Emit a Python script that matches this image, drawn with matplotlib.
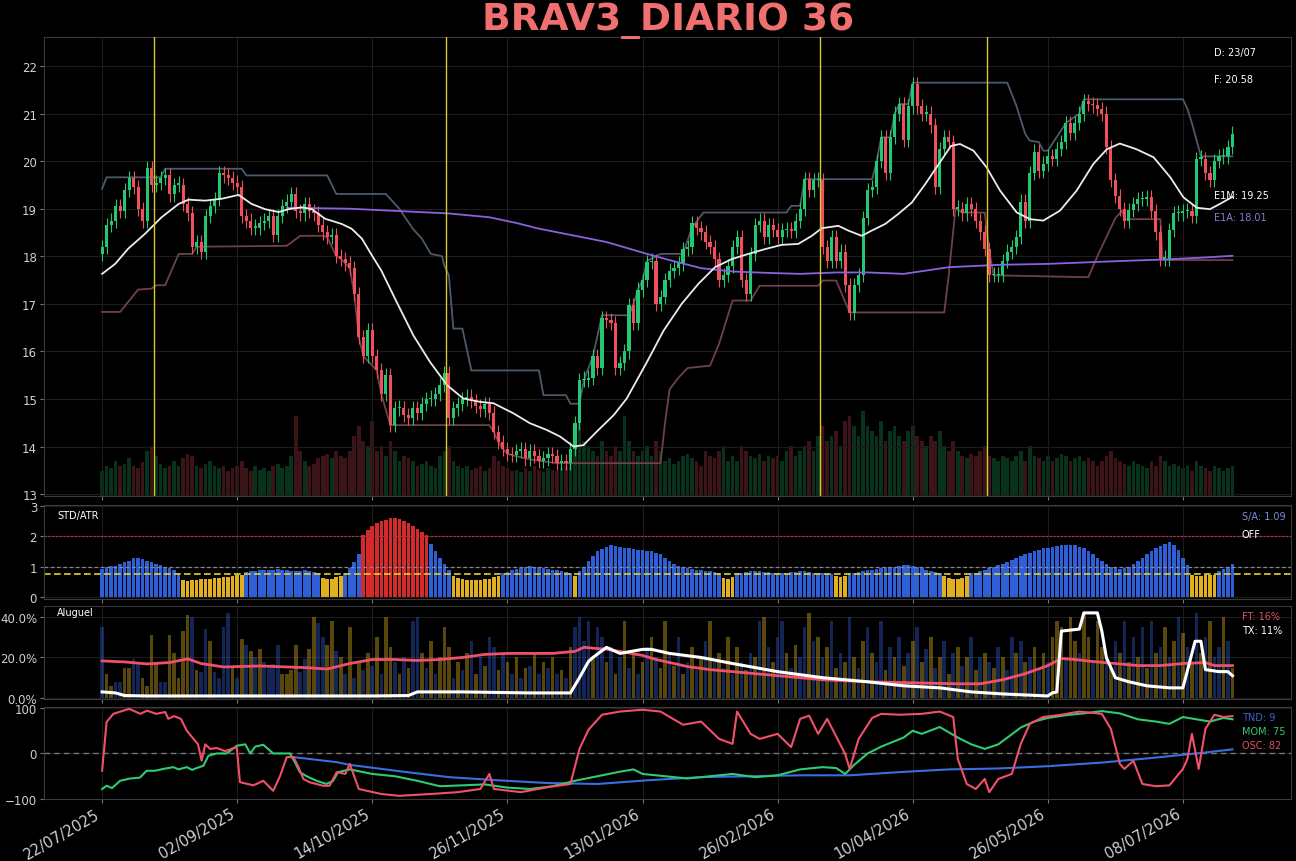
import numpy as np
import matplotlib
matplotlib.use("Agg")
import matplotlib.pyplot as plt
from matplotlib.ticker import FuncFormatter


# daily closes, one per trading day (index 0 = 22/07/2025)
CLOSES = [
    18.20, 18.65, 18.75, 19.05, 18.95, 19.40, 19.65, 19.45, 19.00, 18.75,
    19.85, 19.50, 19.55, 19.65, 19.70, 19.30, 19.50, 19.50, 19.10, 18.90,
    18.20, 18.30, 18.10, 18.85, 19.05, 19.20, 19.75, 19.70, 19.65, 19.55,
    19.45, 18.85, 18.75, 18.60, 18.60, 18.70, 18.75, 18.85, 18.45, 18.85,
    19.05, 19.15, 19.30, 18.95, 18.90, 19.10, 18.95, 18.90, 18.65, 18.50,
    18.40, 18.45, 18.00, 17.95, 17.85, 17.75, 17.20, 16.30, 15.90, 16.45,
    15.90, 15.60, 15.10, 15.50, 14.45, 14.80, 14.80, 14.66, 14.60, 14.80,
    14.70, 14.90, 15.00, 15.00, 15.10, 15.30, 15.55, 14.60, 14.80, 14.90,
    15.00, 15.05, 14.95, 14.85, 14.78, 14.90, 14.70, 14.30, 14.10, 13.95,
    13.85, 13.82, 13.90, 13.95, 13.75, 13.90, 13.80, 13.70, 13.75, 13.85,
    13.80, 13.65, 13.70, 13.65, 13.95, 14.50, 15.40, 15.40, 15.45, 15.90,
    15.65, 16.70, 16.65, 16.60, 15.65, 15.75, 16.00, 16.97, 16.60, 17.30,
    17.50, 17.88, 17.90, 17.00, 17.15, 17.50, 17.70, 17.75, 17.85, 18.15,
    18.20, 18.70, 18.60, 18.50, 18.30, 18.20, 17.95, 17.50, 17.60, 17.80,
    18.20, 18.40, 17.50, 17.20, 18.05, 18.65, 18.75, 18.40, 18.65, 18.55,
    18.40, 18.55, 18.55, 18.54, 18.75, 19.00, 19.62, 19.40, 19.60, 19.60,
    18.20, 17.90, 18.40, 17.90, 18.10, 17.40, 16.80, 17.40, 17.60, 18.80,
    19.40, 19.45, 20.00, 20.50, 19.75, 20.50, 21.00, 21.20, 20.45, 21.15,
    21.62, 21.15, 21.00, 21.00, 20.75, 19.45, 20.25, 20.50, 20.40, 19.00,
    19.00, 18.90, 19.10, 19.00, 18.75, 18.50, 18.15, 17.60, 17.60, 17.60,
    17.90, 18.10, 18.20, 18.40, 19.15, 18.75, 19.75, 20.20, 19.80, 19.95,
    20.10, 20.05, 20.25, 20.40, 20.80, 20.60, 20.80, 21.00, 21.27, 21.20,
    21.17, 21.10, 21.00, 20.30, 19.60, 19.27, 19.00, 18.75, 18.98, 19.10,
    19.20, 19.20, 19.25, 18.95, 18.50, 17.95, 17.95, 18.55, 18.90, 18.90,
    18.95, 18.95, 18.85, 20.05, 20.05, 19.75, 19.60, 20.00, 20.10, 20.10,
    20.30, 20.58,
]
FIRST_OPEN = 18.05

# volume (bar height in panel pixels)
VOLUME = [
    25, 30, 28, 35, 30, 32, 38, 30, 28, 34,
    45, 50, 40, 32, 28, 30, 35, 30, 38, 42,
    40, 30, 28, 32, 35, 30, 28, 30, 25, 28,
    30, 35, 28, 25, 30, 26, 28, 25, 30, 32,
    28, 30, 40, 80, 45, 35, 30, 32, 38, 40,
    42, 38, 45, 40, 38, 45, 60, 70, 55, 50,
    75, 45, 50, 40, 55, 45, 35, 40, 38, 35,
    30, 32, 35, 30, 28, 40, 45, 50, 35, 30,
    28, 30, 26, 28, 30, 25, 28, 40, 35, 30,
    28, 25, 26, 24, 28, 25, 30, 26, 24, 28,
    26, 25, 28, 30, 45, 60, 85, 55, 50, 45,
    40, 55, 45, 40, 50, 45, 80, 55, 45, 40,
    45, 50, 40, 55, 45, 35, 38, 32, 35, 40,
    42, 38, 35, 30, 45, 40, 38, 45, 50, 35,
    40, 35, 50, 45, 40, 38, 42, 35, 40, 38,
    40, 35, 45, 50, 40, 45, 50, 55, 45, 60,
    70, 55, 60, 65, 50, 75, 80, 70, 60, 85,
    70, 65, 60, 75, 55, 65, 70, 60, 55, 65,
    70, 60, 55, 50, 60, 55, 65, 50, 45, 55,
    45, 40, 38, 42, 40, 45, 50, 40, 38, 35,
    40, 38, 35, 40, 45, 35, 50, 40, 38, 35,
    40, 35, 38, 42, 40, 35, 38, 40, 35, 38,
    35, 30, 35, 40, 45, 38, 35, 32, 30, 35,
    32, 30, 28, 35, 30, 40, 35, 30, 32, 30,
    28, 30, 25, 35, 30, 28, 25, 30, 28, 25,
    28, 30,
]

# moving lines: (candle index, price)
E1M_IDX = [0, 2.9, 5.8, 9.5, 13.2, 17, 19.2, 22.9, 26.6, 30.3, 33.2, 36.2, 39.2, 41.4,
           44.3, 46.6, 49.5, 53.2, 55.4, 57.7, 59.9, 62, 65.4, 69.1, 72.8, 76.6, 80.2,
           83.9, 86.9, 91.3, 95, 98.7, 101.7, 104.7, 106.9, 109.8, 113.6, 116.5, 121,
           124.7, 128.7, 132.4, 136.1, 139.8, 143.5, 147.2, 150.9, 154.6, 157.6, 159.8,
           163.5, 165.7, 168.7, 170.9, 173.9, 176.8, 179.8, 182.8, 185.8, 188.5, 190.5,
           193.5, 196.4, 199.4, 203.1, 206.1, 209, 212.7, 216.4, 220.1, 223.1, 226,
           229.7, 233.5, 237.2, 240.1, 243.1, 246, 248.2, 251]
E1M_VAL = [17.63, 17.84, 18.16, 18.47, 18.82, 19.10, 19.19, 19.17, 19.21, 19.29, 19.10,
           18.99, 18.93, 18.99, 19.03, 18.99, 18.79, 18.68, 18.58, 18.37, 18.02, 17.70,
           17.04, 16.34, 15.78, 15.29, 15.01, 14.94, 14.91, 14.70, 14.49, 14.35, 14.21,
           14.00, 14.03, 14.31, 14.66, 15.01, 15.78, 16.44, 17.00, 17.42, 17.77, 17.94,
           18.05, 18.15, 18.24, 18.26, 18.43, 18.59, 18.64, 18.54, 18.43, 18.54, 18.68,
           18.89, 19.13, 19.52, 19.94, 20.32, 20.36, 20.22, 19.87, 19.38, 18.92, 18.78,
           18.75, 18.96, 19.38, 19.94, 20.25, 20.37, 20.25, 20.08, 19.66, 19.24, 19.02,
           18.99, 19.10, 19.25]

E1A_IDX = [41, 55, 66, 77, 86, 92, 97, 104, 112, 121, 126, 133, 140, 148, 155, 163,
           170, 178, 188, 199, 210, 218, 226, 235, 244, 251]
E1A_VAL = [19.02, 19.00, 18.95, 18.90, 18.82, 18.70, 18.58, 18.45, 18.30, 18.05, 17.92,
           17.75, 17.68, 17.65, 17.63, 17.66, 17.66, 17.63, 17.77, 17.82, 17.84, 17.87,
           17.90, 17.93, 17.97, 18.01]

UPPER_IDX = [0, 1, 13, 14, 31, 32, 50, 52, 63, 66, 69, 71, 73, 75.5, 76, 77, 78, 80, 82,
             97, 98, 103, 104, 106, 107, 109, 111, 117, 118, 119, 120, 121, 124, 129, 131,
             133.5, 152, 153, 155, 156, 171, 172, 173, 175, 176, 177, 179, 180, 201, 203,
             205, 206, 208, 209, 210, 214, 217, 218, 240, 241, 242, 244, 251]
UPPER_VAL = [19.42, 19.66, 19.66, 19.84, 19.84, 19.70, 19.70, 19.31, 19.31, 19.00, 18.58,
             18.37, 18.05, 18.00, 17.80, 17.60, 16.48, 16.48, 15.60, 15.60, 15.08, 15.08,
             14.90, 14.90, 15.40, 15.90, 16.76, 16.76, 17.00, 17.30, 17.50, 17.90, 18.05,
             18.05, 18.60, 18.92, 18.92, 19.06, 19.06, 19.62, 19.62, 20.00, 20.50, 20.50,
             21.00, 21.20, 21.20, 21.65, 21.65, 21.17, 20.57, 20.43, 20.40, 20.22, 20.22,
             20.80, 21.00, 21.30, 21.30, 21.10, 20.80, 20.10, 20.10]

LOWER_IDX = [0, 4, 8, 11, 12, 14, 17, 20, 21, 41, 44, 49, 50, 52, 53, 54, 55, 56, 57, 58,
             61, 62, 64, 86, 87, 88, 89, 90, 91, 94, 97, 101, 124, 125, 126, 128, 130, 135,
             137, 140, 144, 146, 159, 160, 163, 166, 187, 188, 189.5, 191, 196, 197, 198,
             219, 221, 223, 225, 226.5, 227, 235, 235.5, 251]
LOWER_VAL = [16.83, 16.83, 17.30, 17.32, 17.39, 17.39, 18.05, 18.05, 18.20, 18.22, 18.43,
             18.43, 18.40, 18.00, 17.95, 17.85, 17.75, 17.20, 16.30, 15.90, 15.60, 15.10,
             14.45, 14.45, 14.30, 14.10, 13.95, 13.85, 13.82, 13.75, 13.70, 13.65, 13.65,
             14.50, 15.20, 15.45, 15.65, 15.70, 16.16, 17.07, 17.07, 17.38, 17.38, 17.49,
             17.49, 16.82, 16.82, 17.60, 19.00, 18.92, 18.92, 18.10, 17.60, 17.56, 18.00,
             18.40, 18.80, 18.96, 18.78, 18.78, 17.92, 17.92]

EVENTS = [11.5, 76.4, 159.4, 196.5]

# STD/ATR ratio per candle
STD_ATR = (
    [0.92, 1.0, 1.03, 1.03, 1.08, 1.16, 1.2, 1.28, 1.28, 1.25, 1.2, 1.15, 1.09, 1.05, 1.0,
     0.95, 0.9, 0.8]
    + [0.55, 0.53, 0.55, 0.57, 0.58, 0.6, 0.6, 0.62, 0.63, 0.65, 0.67, 0.7, 0.72, 0.74]
    + [0.82, 0.85, 0.87, 0.88, 0.9, 0.9, 0.9, 0.92, 0.9, 0.88, 0.87, 0.85, 0.86, 0.88,
       0.85, 0.82, 0.78]
    + [0.62, 0.58, 0.6, 0.65, 0.7]
    + [0.8, 0.95, 1.15, 1.4]
    + [2.05, 2.2, 2.35, 2.45, 2.5, 2.55, 2.6, 2.6, 2.58, 2.5, 2.45, 2.35, 2.25, 2.15, 2.05]
    + [1.75, 1.5, 1.3, 1.1, 0.9]
    + [0.7, 0.62, 0.58, 0.56, 0.55, 0.55, 0.56, 0.58, 0.6, 0.65, 0.7]
    + [0.78, 0.82, 0.88, 0.92, 0.97, 1.0, 1.02, 1.0, 0.98, 0.95, 0.92, 0.9, 0.88, 0.85,
       0.82, 0.8]
    + [0.7]
    + [0.85, 1.0, 1.2, 1.35, 1.5, 1.58, 1.65, 1.7, 1.68, 1.65, 1.62, 1.6, 1.58, 1.55, 1.55,
       1.52, 1.5, 1.45, 1.4, 1.3, 1.2, 1.1, 1.02, 0.98, 0.95, 0.92, 0.9, 0.88, 0.86, 0.85,
       0.83, 0.8]
    + [0.62, 0.6, 0.65]
    + [0.78, 0.8, 0.82, 0.85, 0.85, 0.85, 0.83, 0.82, 0.8, 0.8, 0.78, 0.8, 0.82, 0.83,
       0.85, 0.85, 0.83, 0.8, 0.8, 0.78, 0.78, 0.76]
    + [0.68, 0.66, 0.7]
    + [0.78, 0.8, 0.82, 0.85, 0.88, 0.9, 0.92, 0.95, 0.98, 1.0, 1.0, 1.02, 1.05, 1.05,
       1.02, 1.0, 0.95, 0.9, 0.85, 0.82, 0.78]
    + [0.68, 0.62, 0.6, 0.6, 0.62, 0.7]
    + [0.78, 0.8, 0.85, 0.9, 0.95, 1.0, 1.05, 1.1, 1.15, 1.22, 1.28, 1.35, 1.4, 1.45, 1.5,
       1.55, 1.6, 1.62, 1.65, 1.68, 1.7, 1.72, 1.72, 1.7, 1.65, 1.6, 1.5, 1.4, 1.3, 1.2,
       1.1, 1.0, 0.95, 0.92, 0.95, 1.0, 1.08, 1.2, 1.3, 1.42, 1.52, 1.6, 1.68, 1.75, 1.8,
       1.7, 1.55, 1.3, 1.05]
    + [0.72, 0.68, 0.7, 0.72, 0.74, 0.73]
    + [0.85, 0.92, 1.0, 1.09]
)
STD_LOW, STD_HIGH = 0.75, 2.0

# Aluguel bars: b = blue, y = yellow, value in %
ALUGUEL = """
b35 y12 y6 b8 b8 y15 y15 b19 b18 y10 y6 y31 y18 b8 b8 y31 y22 y10 y33 y41
b40 y14 b13 b34 y28 b13 b10 b35 b42 y15 b10 y29 b26 y23 b20 y24 b18 b15 b17 b26
y12 y12 y14 y26 b13 b19 y24 y40 b37 b30 y26 y38 b23
y20 b12 y35 b10 y18 b14 y22 b16 y30 b12 y40 y25 b18 y12 b20 y15 b38 b40 y22 b15
y28 b12 y20 y35 y25 b10 y18 b14 y22 b28 y12 b20 y16 b30 b25 y14 b22 y18 b12 y20
b10 y15 b16 y22 b12 y18 b15 y20 b12 y14 b10 y25 b35 b40 b28 b38 y20 b35 b30 y18
b25 y12 b20 y38 b15 y22 b12 y18 b25 y30 b20 y15 y38 b22 y16 b30 y12 b18 y25 b14
y20 b28 y38 b18 y22 b15 y30 b12 y25 b18 y14 b22 y20 b38 y40 b25 y18 b30 b38 y22
b15 y26 b20 b35 y42 b28 y30 b20 y25 b38 y15 b22 y18 b40 y20 b15 y28 b35 y22 b18
b38 y14 b25 y20 b30 y16 b22 y28 b35 y18 b24 y30 b15 y20 b28 y12 b22 y25 b16 y20
b30 y14 b20 y22 b18 y15 b25 y20 b14 b30 y22 b28 y18 b20 y25 b15 y22 b18 y30 y38
y35 b20 y40 y28 b22 y42 y30 b18 y38 y25 b20 y15 b28 y22 b38 y18 b30 y20 b35 y15
b38 y22 b25 y35 b20 y28 b40 y32 b25 y18 b42 y22 b30 y38 b20 b25 y40 b28 y15
""".split()

FT_IDX = [0, 5, 10, 15, 19, 22, 27, 35, 45, 50, 55, 60, 65, 70, 75, 80, 85, 90, 100, 105,
          107, 112, 115, 120, 123, 130, 135, 145, 155, 160, 170, 180, 190, 195, 200, 205,
          210, 213, 216, 220, 225, 230, 235, 240, 245, 247, 251]
FT_VAL = [18.3, 17.8, 16.8, 17.5, 19.3, 17, 15.3, 15.8, 15.0, 14.3, 17, 19, 19, 18.5, 19, 20,
          21.5, 22, 22, 23, 25, 24, 23, 21, 19, 15.5, 14, 12, 10, 9, 8, 7.5, 7, 7, 9, 12, 16,
          19.5, 19, 18, 17, 16, 16, 17, 17.5, 16, 16]

TX_IDX = [0, 3, 5, 10, 30, 60, 68, 70, 80, 95, 104, 106, 107, 108, 109, 112, 115, 120, 122,
          126, 133, 140, 150, 160, 170, 178, 186, 193, 200, 210, 211, 212, 213, 217, 218,
          221, 222, 223, 225, 228, 232, 237, 240, 242.7, 244, 245, 248, 250, 251]
TX_VAL = [3, 2.5, 1.2, 1, 1, 1, 1.2, 3, 3, 2.5, 2.5, 10, 14, 18, 20, 25, 22, 24, 24, 22, 20,
          17, 13, 10, 8, 6, 5, 3, 2, 1, 2.5, 3, 33, 34, 42, 42, 33, 20, 10, 8, 6, 5, 5, 28,
          28, 14, 13, 13, 11]

OSC_IDX = [0, 1, 2.5, 6, 8.5, 10, 12, 14, 14.7, 16, 17.5, 18.8, 20.3, 21.3, 22.1, 22.9, 24,
           25.5, 27.3, 29.9, 30.6, 33.6, 35.8, 38, 39.5, 41, 42.5, 43.6, 44.7, 46, 49.1,
           50.5, 52.1, 54, 55, 57, 62, 66, 73, 79, 84, 86, 87, 93, 99, 104, 106, 108, 111,
           115, 120, 124, 129, 133, 137, 140, 141, 144, 146, 150, 153, 155, 157, 159, 161,
           165, 166, 168, 171, 173, 177, 182, 186, 189, 190, 192, 194, 196, 197, 199, 202,
           204, 206, 209, 213, 217, 222, 224, 226, 227, 229, 231, 234, 237, 240, 241, 242,
           243.5, 245, 247, 249, 251]
OSC_VAL = [-38, 69, 87, 98, 87, 94, 87, 91, 76, 82, 76, 50, 32, 20, -16, 20, 10, 12, 5, 14,
           -63, -70, -60, -82, -50, -8, -8, -30, -56, -63, -71, -71, -41, -45, -23, -78, -89,
           -93, -89, -85, -78, -45, -78, -85, -74, -67, 10, 52, 85, 92, 96, 92, 63, 70, 32,
           21, 92, 43, 32, 43, 14, 76, 83, 43, 76, -1, -34, 32, 78, 87, 85, 87, 92, 80, -12,
           -67, -78, -56, -85, -56, -45, 21, 65, 80, 85, 92, 87, 54, -23, -34, -16, -67, -72,
           -70, -34, -12, 43, -34, 54, 85, 80, 82]

MOM_IDX = [0, 1, 2.2, 4, 6.2, 8.4, 9.9, 11.7, 13.6, 15.8, 17, 18.8, 20, 21, 22.5, 23.6,
           25.5, 27.7, 29.9, 31.8, 32.9, 34, 35.8, 38, 41.7, 42.8, 43.9, 45.4, 47.6, 49.8,
           51.3, 52.4, 55, 60, 65, 70, 75, 80, 85, 90, 95, 100, 105, 110, 115, 118, 120, 125,
           130, 135, 140, 145, 150, 155, 160, 163, 165, 167, 170, 173, 178, 180, 182, 186,
           190, 193, 196, 199, 202, 204, 207, 210, 214, 218, 222, 226, 230, 234, 237, 240,
           243, 246, 249, 251]
MOM_VAL = [-78, -71, -76, -60, -55, -53, -38, -38, -34, -30, -35, -30, -36, -32, -27, -5, 0,
           0, 17, 20, 0, 15, 19, 0, 0, -19, -41, -50, -60, -67, -60, -41, -35, -45, -50, -60,
           -72, -70, -68, -75, -78, -72, -60, -50, -40, -35, -45, -50, -55, -50, -45, -52,
           -48, -35, -30, -32, -45, -25, 0, 15, 35, 50, 43, 58, 35, 20, 10, 20, 42, 57, 70,
           78, 84, 88, 93, 88, 75, 70, 65, 80, 75, 70, 78, 75]

TND_IDX = [42.5, 52, 55, 66, 77, 88, 99, 110, 121, 133, 144, 155, 166, 177, 188, 199, 210,
           222, 233, 244, 251]
TND_VAL = [-8, -19, -25, -39, -52, -59, -65, -67, -59, -52, -50, -48, -48, -41, -35, -33, -28,
           -20, -10, 1, 9]

TICK_IDX = [0, 30, 60, 90, 120, 150, 180, 210, 240]
TICK_LABELS = ["22/07/2025", "02/09/2025", "14/10/2025", "26/11/2025", "13/01/2026",
               "26/02/2026", "10/04/2026", "26/05/2026", "08/07/2026"]

GREEN = "#25c872"
RED = "#f0505c"
BLUE = "#2f5fd6"
YELLOW = "#e0b020"
GRID = "#1c1c1c"
TXT = "#d0d0d0"

closes = np.array(CLOSES)
idx = np.arange(len(closes))
opens = np.concatenate([[FIRST_OPEN], closes[:-1]])
up = closes >= opens

W, H = 1296, 862
fig = plt.figure(figsize=(W / 100, H / 100), dpi=100, facecolor="black")


def rect(top, bottom, left=44, right=1291):
    return [left / W, 1 - bottom / H, (right - left) / W, (bottom - top) / H]


ax = fig.add_axes(rect(38, 497))
ax2 = fig.add_axes(rect(506, 600), sharex=ax)
ax3 = fig.add_axes(rect(607, 700), sharex=ax)
ax4 = fig.add_axes(rect(708, 800), sharex=ax)

for a in (ax, ax2, ax3, ax4):
    a.set_facecolor("black")
    for s in a.spines.values():
        s.set_color("#3a3a3a")
    a.tick_params(colors="#777777", labelcolor=TXT, labelsize=8.5, length=3, pad=2)
    a.grid(True, color=GRID, lw=0.8)
    a.set_axisbelow(True)
    a.set_xticks(TICK_IDX)
for a in (ax, ax2, ax3):
    a.tick_params(labelbottom=False)

ax.set_xlim(-12.9, 264)

# volume under the candles
axv = ax.twinx()
axv.bar(idx, VOLUME, width=0.8, color=np.where(up, GREEN, RED), alpha=0.25, lw=0)
axv.set_ylim(0, 459)
axv.set_yticks([])
for s in axv.spines.values():
    s.set_visible(False)
ax.set_zorder(axv.get_zorder() + 1)
ax.patch.set_visible(False)

# candles
colors = np.where(up, GREEN, RED)
body_lo = np.minimum(opens, closes)
body_h = np.maximum(np.abs(closes - opens), 0.03)
wick = 0.15
ax.vlines(idx, body_lo - wick, body_lo + body_h + wick, color=colors, lw=0.8, zorder=3)
ax.bar(idx, body_h, bottom=body_lo, width=0.7, color=colors, lw=0, zorder=4)

ax.plot(UPPER_IDX, UPPER_VAL, color="#4c5a6a", lw=1.3, zorder=2)
ax.plot(LOWER_IDX, LOWER_VAL, color="#6e4248", lw=1.3, zorder=2)
ax.plot(E1A_IDX, E1A_VAL, color="#8a62e0", lw=1.3, zorder=5)
ax.plot(E1M_IDX, E1M_VAL, color="#ececec", lw=1.3, zorder=5)
for e in EVENTS:
    ax.axvline(e, color="#d8c830", lw=1, zorder=6)

ax.set_ylim(12.96, 22.61)
ax.set_yticks(range(13, 23))

ax.text(0.938, 0.967, "D: 23/07", transform=ax.transAxes, color="white", fontsize=7, va="center")
ax.text(0.938, 0.908, f"F: {CLOSES[-1]:.2f}", transform=ax.transAxes, color="white",
        fontsize=7, va="center")
ax.text(0.938, 0.656, f"E1M: {E1M_VAL[-1]:.2f}", transform=ax.transAxes, color="white",
        fontsize=7, va="center")
ax.text(0.938, 0.608, f"E1A: {E1A_VAL[-1]:.2f}", transform=ax.transAxes, color="#8a7ad8",
        fontsize=7, va="center")

# STD/ATR panel
std = np.array(STD_ATR)
std_col = np.where(std > STD_HIGH, "#d42a2a", np.where(std < STD_LOW, YELLOW, BLUE))
ax2.bar(idx, std, width=0.8, color=std_col, lw=0)
ax2.axhline(STD_HIGH, color="#b0304a", lw=0.9, ls=(0, (2, 1)))
ax2.axhline(1.0, color="#888888", lw=0.9, ls=(0, (3, 2)))
ax2.axhline(STD_LOW, color="#e0d030", lw=1.2, ls=(0, (4, 2)))
ax2.set_ylim(-0.066, 3.03)
ax2.set_yticks([0, 1, 2, 3])
ax2.text(0.0104, 0.89, "STD/ATR", transform=ax2.transAxes, color="white", fontsize=7, va="center")
ax2.text(0.9607, 0.883, f"S/A: {std[-1]:.2f}", transform=ax2.transAxes, color="#7d8ee0",
         fontsize=7, va="center")
ax2.text(0.9607, 0.69, "OFF", transform=ax2.transAxes, color="white", fontsize=7, va="center")

# Aluguel panel
alu_side = [t[0] for t in ALUGUEL]
alu_pct = [float(t[1:]) for t in ALUGUEL]
alu_col = [BLUE if s == "b" else YELLOW for s in alu_side]
ax3.bar(idx, alu_pct, width=0.8, color=alu_col, alpha=0.4, lw=0)
ax3.plot(FT_IDX, FT_VAL, color="#f0506a", lw=2)
ax3.plot(TX_IDX, TX_VAL, color="white", lw=2.2)
ax3.set_ylim(-0.5, 45.4)
ax3.set_yticks([0, 20, 40])
ax3.yaxis.set_major_formatter(FuncFormatter(lambda v, p: f"{v:.1f}%"))
ax3.text(0.01, 0.935, "Aluguel", transform=ax3.transAxes, color="white", fontsize=7, va="center")
ax3.text(0.9607, 0.892, f"FT: {FT_VAL[-1]:.0f}%", transform=ax3.transAxes, color="#e05060",
         fontsize=7, va="center")
ax3.text(0.9607, 0.742, f"TX: {TX_VAL[-1]:.0f}%", transform=ax3.transAxes, color="white",
         fontsize=7, va="center")

# oscillator panel
ax4.axhline(0, color="#777777", lw=1, ls=(0, (4, 3)))
ax4.plot(TND_IDX, TND_VAL, color="#3a6ee0", lw=1.5)
ax4.plot(MOM_IDX, MOM_VAL, color="#2ecc71", lw=1.5)
ax4.plot(OSC_IDX, OSC_VAL, color="#f0506a", lw=1.5)
ax4.set_ylim(-100, 102)
ax4.set_yticks([-100, 0, 100])
ax4.text(0.9607, 0.891, f"TND: {TND_VAL[-1]}", transform=ax4.transAxes, color="#4060d0",
         fontsize=7, va="center")
ax4.text(0.9607, 0.739, f"MOM: {MOM_VAL[-1]}", transform=ax4.transAxes, color="#2ecc71",
         fontsize=7, va="center")
ax4.text(0.9607, 0.587, f"OSC: {OSC_VAL[-1]}", transform=ax4.transAxes, color="#e05060",
         fontsize=7, va="center")
ax4.set_xticklabels(TICK_LABELS, rotation=30, ha="right", fontsize=10.5, color=TXT)

fig.text(668 / W, 1 - 30 / H, "BRAV3_DIARIO 36", color="#f07070", fontsize=27,
         fontweight="bold", ha="center", va="baseline")

fig.savefig("out.png", dpi=100, facecolor="black")
